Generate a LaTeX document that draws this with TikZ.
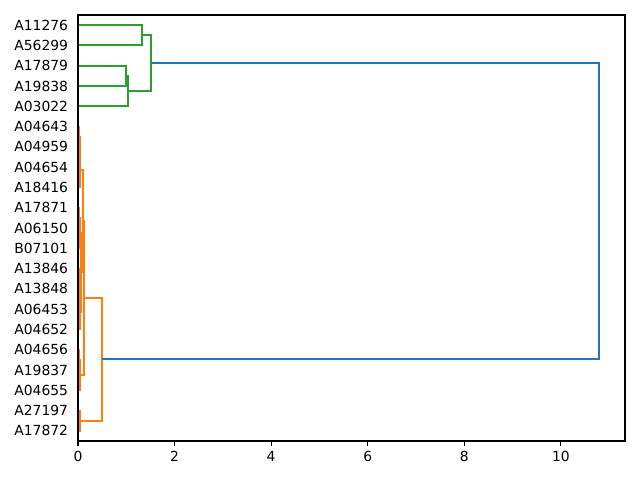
\documentclass[tikz,border=0pt]{standalone}
\usepackage{fontspec}
\setmainfont{DejaVu Sans}
\definecolor{mplblue}{HTML}{1F77B4}
\definecolor{mplorange}{HTML}{FF7F0E}
\definecolor{mplgreen}{HTML}{2CA02C}
\newcommand\dlink[5]{\draw (#2,#1) -| (#5,#3) -- (#4,#3);}
\tikzset{
  dend/.style={line width=1.5pt, line cap=butt, line join=miter},
  spine/.style={line width=0.8pt, line cap=rect},
  ticklab/.style={inner sep=0pt, font=\fontsize{10}{12}\selectfont},
}
\begin{document}
\begin{tikzpicture}[x=0.72pt, y=-0.72pt]
\useasboundingbox[fill=white] (0,0) rectangle (640,480);
% green cluster
\begin{scope}[dend, mplgreen]
\dlink{25.1}{78}{45.4}{78}{142.23}
\dlink{65.7}{78}{86.0}{78}{125.81}
\dlink{75.85}{125.81}{106.3}{78}{127.74}
\dlink{35.27}{142.23}{91.08}{127.74}{150.92}
\end{scope}
% orange cluster
\begin{scope}[dend, mplorange]
\dlink{126.6}{78}{146.9}{78}{78.97}
\dlink{136.75}{78.97}{167.1}{78}{79.93}
\dlink{151.93}{79.93}{187.4}{78}{80.41}
\dlink{207.7}{78}{228.0}{78}{78.97}
\dlink{217.85}{78.97}{248.3}{78}{79.93}
\dlink{268.6}{78}{288.9}{78}{78.97}
\dlink{278.75}{78.97}{309.1}{78}{79.93}
\dlink{293.93}{79.93}{329.4}{78}{80.17}
\dlink{233.08}{79.93}{311.67}{80.17}{81.38}
\dlink{169.67}{80.41}{272.37}{81.38}{82.83}
\dlink{349.7}{78}{370.0}{78}{78.97}
\dlink{359.85}{78.97}{390.3}{78}{79.93}
\dlink{221.02}{82.83}{375.08}{79.93}{83.79}
\dlink{410.6}{78}{430.9}{78}{80.41}
\dlink{298.05}{83.79}{420.75}{80.41}{101.66}
\end{scope}
% blue root
\begin{scope}[dend, mplblue]
\dlink{63.17}{150.92}{359.4}{101.66}{598.6}
\end{scope}
% axes frame
\draw[spine] (78,15) rectangle (625,441);
% x ticks
\foreach \k in {0,2,4,6,8,10}{
  \draw[spine] ({78+48.29*\k},441) -- ({78+48.29*\k},445.9);
  \node[ticklab, anchor=north] (xt\k) at ({78+48.29*\k},450.8) {\k};
}
% leaf labels
\foreach \lab [count=\i from 0] in {A11276,A56299,A17879,A19838,A03022,A04643,A04959,A04654,A18416,A17871,A06150,B07101,A13846,A13848,A06453,A04652,A04656,A19837,A04655,A27197,A17872}{
  \node[ticklab, anchor=east] (leaf\i) at (68.3,{25.14+20.286*\i}) {\lab};
}
\end{tikzpicture}
\end{document}
